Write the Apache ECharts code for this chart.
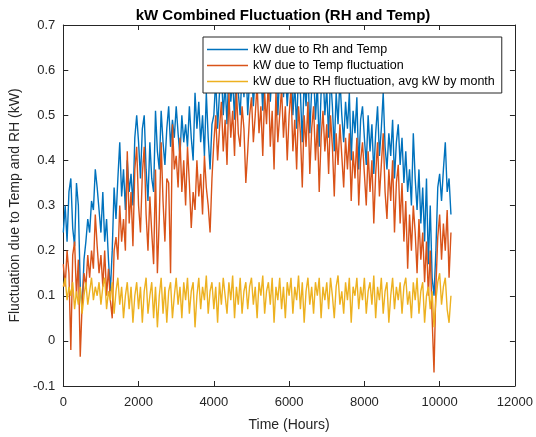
<!DOCTYPE html>
<html>
<head>
<meta charset="utf-8">
<script src="https://cdn.jsdelivr.net/npm/echarts@6/dist/echarts.min.js"></script>
<style>
  html, body { margin: 0; padding: 0; background: #fff; }
  #chart { width: 536px; height: 437px; }
</style>
</head>
<body>
<div id="chart"></div>
<script>
// Sampling grid of the readings (hours)
const STEP_HOURS = 50;

const seriesNames = [
  'kW due to Rh and Temp',
  'kW due to Temp fluctuation',
  'kW due to RH fluctuation, avg kW by month'
];

// kW due to Rh and Temp (blue)
const kwRhTemp = [
  0.24,0.30,0.22,0.33,0.36,0.25,0.21,0.35,0.30,0.12,0.07,0.18,0.22,0.27,0.24,0.31,0.29,0.38,0.34,0.29,
  0.24,0.33,0.22,0.27,0.18,0.11,0.20,0.34,0.27,0.36,0.44,0.32,0.38,0.29,0.40,0.33,0.37,0.30,0.45,0.50,
  0.44,0.36,0.47,0.50,0.38,0.31,0.44,0.36,0.33,0.51,0.42,0.38,0.51,0.44,0.39,0.47,0.52,0.43,0.49,0.45,
  0.52,0.46,0.41,0.50,0.44,0.48,0.43,0.52,0.45,0.40,0.55,0.47,0.53,0.44,0.50,0.41,0.55,0.45,0.38,0.48,
  0.50,0.58,0.47,0.55,0.60,0.50,0.57,0.48,0.61,0.53,0.58,0.49,0.62,0.55,0.50,0.60,0.54,0.63,0.50,0.58,
  0.61,0.52,0.59,0.64,0.55,0.60,0.51,0.62,0.57,0.64,0.53,0.60,0.56,0.63,0.50,0.59,0.62,0.54,0.60,0.52,
  0.59,0.63,0.50,0.57,0.47,0.60,0.55,0.44,0.58,0.52,0.61,0.46,0.56,0.60,0.49,0.57,0.43,0.55,0.60,0.50,
  0.56,0.45,0.59,0.52,0.42,0.55,0.48,0.58,0.50,0.44,0.53,0.47,0.55,0.40,0.51,0.46,0.54,0.38,0.49,0.52,
  0.45,0.39,0.50,0.42,0.48,0.37,0.46,0.52,0.41,0.47,0.55,0.43,0.38,0.46,0.41,0.49,0.36,0.44,0.48,0.39,
  0.45,0.35,0.42,0.33,0.38,0.30,0.46,0.36,0.29,0.38,0.26,0.34,0.22,0.36,0.17,0.30,0.14,0.10,0.20,0.34,
  0.37,0.31,0.38,0.44,0.33,0.36,0.28
];

// kW due to Temp fluctuation (orange)
const kwTemp = [
  0.17,0.12,0.20,0.15,-0.02,0.19,0.22,0.10,0.18,-0.035,0.08,0.15,0.12,0.19,0.14,0.20,0.16,0.28,0.21,0.15,
  0.19,0.12,0.20,0.10,0.16,0.09,0.05,0.20,0.23,0.18,0.30,0.22,0.27,0.20,0.42,0.26,0.33,0.21,0.38,0.43,
  0.30,0.24,0.37,0.43,0.28,0.20,0.32,0.24,0.17,0.38,0.15,0.27,0.44,0.31,0.22,0.36,0.35,0.15,0.48,0.38,
  0.41,0.34,0.45,0.33,0.40,0.30,0.43,0.35,0.25,0.33,0.29,0.40,0.32,0.37,0.28,0.41,0.34,0.30,0.24,0.36,
  0.44,0.50,0.40,0.47,0.53,0.42,0.49,0.39,0.55,0.45,0.51,0.41,0.56,0.46,0.43,0.52,0.47,0.35,0.42,0.50,
  0.54,0.44,0.50,0.57,0.46,0.52,0.41,0.55,0.48,0.58,0.43,0.51,0.38,0.55,0.44,0.50,0.56,0.45,0.52,0.40,
  0.50,0.56,0.42,0.49,0.38,0.52,0.46,0.34,0.50,0.43,0.53,0.37,0.47,0.52,0.40,0.48,0.33,0.45,0.51,0.42,
  0.48,0.37,0.50,0.43,0.32,0.46,0.39,0.48,0.41,0.34,0.45,0.38,0.46,0.31,0.42,0.36,0.45,0.30,0.40,0.44,
  0.37,0.30,0.42,0.33,0.40,0.26,0.37,0.44,0.32,0.39,0.46,0.33,0.27,0.38,0.31,0.40,0.24,0.35,0.39,0.26,
  0.35,0.22,0.31,0.16,0.28,0.20,0.30,0.24,0.15,0.27,0.18,0.24,0.13,0.22,0.10,0.20,0.05,-0.07,0.12,0.23,
  0.28,0.18,0.26,0.20,0.29,0.14,0.24
];

// kW due to RH fluctuation, avg kW by month (yellow)
const kwRh = [
  0.12,0.14,0.09,0.12,0.10,0.13,0.07,0.11,0.08,0.12,0.06,0.10,0.13,0.08,0.11,0.14,0.09,0.12,0.10,0.13,
  0.08,0.12,0.14,0.07,0.11,0.09,0.13,0.06,0.11,0.14,0.08,0.12,0.05,0.10,0.13,0.07,0.12,0.04,0.10,0.13,
  0.07,0.12,0.04,0.11,0.14,0.06,0.10,0.13,0.05,0.12,0.03,0.10,0.14,0.06,0.12,0.04,0.11,0.13,0.05,0.10,
  0.14,0.08,0.12,0.05,0.13,0.09,0.14,0.06,0.11,0.13,0.03,0.10,0.14,0.07,0.12,0.09,0.145,0.06,0.11,0.13,
  0.07,0.12,0.04,0.13,0.08,0.14,0.10,0.06,0.13,0.09,0.145,0.05,0.12,0.08,0.14,0.06,0.11,0.13,0.07,0.12,
  0.14,0.08,0.12,0.05,0.13,0.10,0.145,0.06,0.11,0.13,0.08,0.14,0.04,0.12,0.09,0.14,0.07,0.12,0.05,0.13,
  0.10,0.14,0.06,0.12,0.09,0.145,0.07,0.13,0.04,0.11,0.14,0.08,0.12,0.06,0.13,0.10,0.14,0.05,0.12,0.09,
  0.13,0.07,0.14,0.10,0.05,0.12,0.145,0.08,0.11,0.06,0.13,0.09,0.14,0.04,0.12,0.10,0.14,0.07,0.12,0.09,
  0.14,0.06,0.11,0.13,0.08,0.145,0.05,0.12,0.09,0.14,0.06,0.11,0.13,0.04,0.10,0.14,0.07,0.12,0.09,0.13,
  0.06,0.12,0.14,0.08,0.11,0.05,0.13,0.09,0.14,0.06,0.11,0.13,0.04,0.10,0.12,0.07,0.11,0.03,0.09,0.13,
  0.15,0.08,0.12,0.14,0.07,0.04,0.10
];

const xTicks = { min: 0, max: 12000, interval: 2000 };
const yTicks = { min: -0.1, max: 0.7, interval: 0.1 };

const colors = ['#0072BD', '#D95319', '#EDB120'];

function toPairs(arr) {
  return arr.map((v, i) => [i * STEP_HOURS, v]);
}

const FONT = '"Liberation Sans", Arial, Helvetica, sans-serif';
const AX = '#262626';

const chart = echarts.init(document.getElementById('chart'), null, { renderer: 'canvas' });

const baseX = {
  type: 'value', min: xTicks.min, max: xTicks.max, interval: xTicks.interval,
  axisLine: { show: true, onZero: false, lineStyle: { color: AX, width: 1 } },
  axisTick: { show: true, inside: true, length: 5, lineStyle: { color: AX } },
  splitLine: { show: false }
};
const baseY = {
  type: 'value', min: yTicks.min, max: yTicks.max, interval: yTicks.interval,
  axisLine: { show: true, onZero: false, lineStyle: { color: AX, width: 1 } },
  axisTick: { show: true, inside: true, length: 5, lineStyle: { color: AX } },
  splitLine: { show: false }
};

const LW = 1.4;

chart.setOption({
  animation: false,
  backgroundColor: '#fff',
  title: {
    text: 'kW Combined Fluctuation (RH and Temp)',
    left: 278, top: 3, textAlign: 'center',
    textStyle: { fontFamily: FONT, fontSize: 15, fontWeight: 'bold', color: '#000' }
  },
  grid: { left: 59, right: 21, top: 25, bottom: 51, containLabel: false },
  legend: {
    orient: 'vertical',
    left: 203, top: 37,
    padding: [6, 7, 5, 4],
    itemGap: 3,
    itemWidth: 41, itemHeight: 1.5,
    icon: 'rect',
    backgroundColor: '#fff',
    borderColor: AX, borderWidth: 1,
    textStyle: { fontFamily: FONT, fontSize: 12.5, color: '#000', lineHeight: 13 },
    data: seriesNames
  },
  xAxis: [
    Object.assign({}, baseX, {
      position: 'bottom',
      name: 'Time (Hours)', nameLocation: 'middle', nameGap: 32,
      nameTextStyle: { fontFamily: FONT, fontSize: 14, color: AX },
      axisLabel: { show: true, margin: 10, fontFamily: FONT, fontSize: 13, color: AX,
        formatter: v => String(v) }
    }),
    Object.assign({}, baseX, { position: 'top', axisLabel: { show: false } })
  ],
  yAxis: [
    Object.assign({}, baseY, {
      position: 'left',
      name: 'Fluctuation due to Temp and RH (kW)', nameLocation: 'middle', nameGap: 31,
      nameTextStyle: { fontFamily: FONT, fontSize: 14, color: AX },
      axisLabel: {
        show: true, margin: 8, fontFamily: FONT, fontSize: 13, color: AX,
        formatter: v => String(Math.round(v * 10) / 10)
      }
    }),
    Object.assign({}, baseY, { position: 'right', axisLabel: { show: false } })
  ],
  series: [
    { name: seriesNames[0], type: 'line', data: toPairs(kwRhTemp), showSymbol: false, symbol: 'none',
      lineStyle: { width: LW, color: colors[0] }, itemStyle: { color: colors[0] }, z: 2 },
    { name: seriesNames[1], type: 'line', data: toPairs(kwTemp), showSymbol: false, symbol: 'none',
      lineStyle: { width: LW, color: colors[1] }, itemStyle: { color: colors[1] }, z: 3 },
    { name: seriesNames[2], type: 'line', data: toPairs(kwRh), showSymbol: false, symbol: 'none',
      lineStyle: { width: LW, color: colors[2] }, itemStyle: { color: colors[2] }, z: 4 }
  ]
});
</script>
</body>
</html>
